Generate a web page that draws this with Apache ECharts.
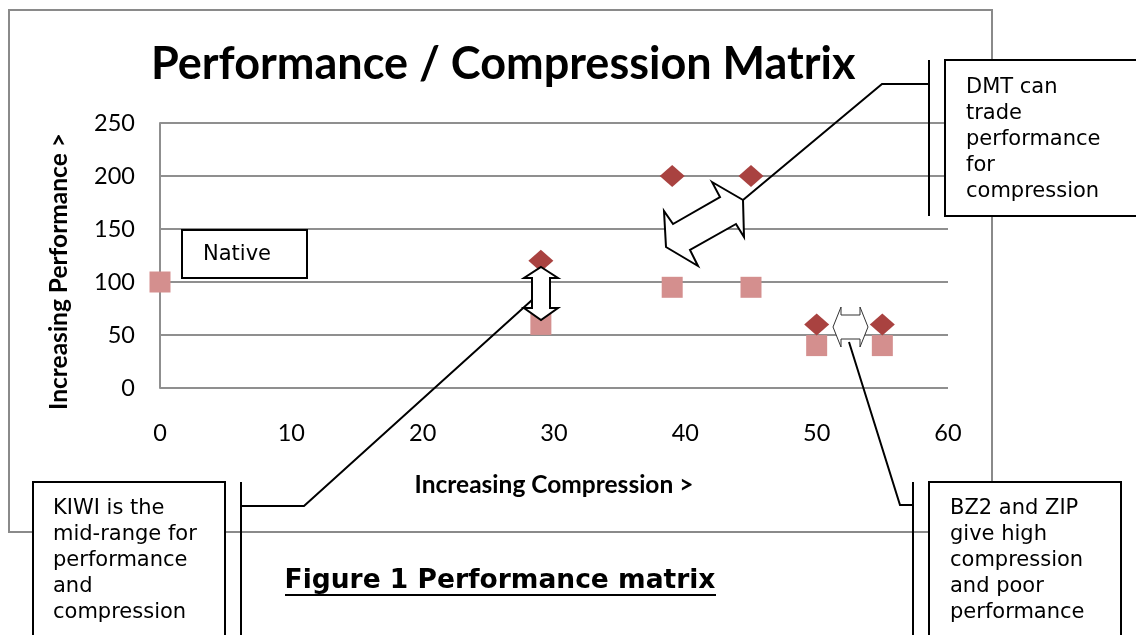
<!DOCTYPE html>
<html>
<head>
<meta charset="utf-8">
<script src="https://cdn.jsdelivr.net/npm/echarts@6/dist/echarts.min.js"></script>
<style>
html,body{margin:0;padding:0;background:#fff;}
#chart{width:1136px;height:635px;}
</style>
</head>
<body>
<div id="chart"></div>
<script>
// ---- data ----
const titleText = 'Performance / Compression Matrix';
const xAxisName = 'Increasing Compression >';
const yAxisName = 'Increasing Performance >';
const xTicks = [0, 10, 20, 30, 40, 50, 60];
const yTicks = [0, 50, 100, 150, 200, 250];
// diamond series
const diamondX = [29, 39, 45, 50, 55];
const diamondY = [120, 200, 200, 60, 60];
// square series
const squareX = [0, 29, 39, 45, 50, 55];
const squareY = [100, 60, 95, 95, 40, 40];
// annotation texts
const nativeText = 'Native';
const dmtText = ['DMT can', 'trade', 'performance', 'for', 'compression'];
const kiwiText = ['KIWI is the', 'mid-range for', 'performance', 'and', 'compression'];
const bzText = ['BZ2 and ZIP', 'give high', 'compression', 'and poor', 'performance'];
const captionText = 'Figure 1 Performance matrix';

const diamondData = diamondX.map((x, i) => [x, diamondY[i]]);
const squareData = squareX.map((x, i) => [x, squareY[i]]);

const chart = echarts.init(document.getElementById('chart'));
const calloutFont = '21px "DejaVu Sans"';
const Z = 100;

function box(x, y, w, h) {
  return { type: 'rect', z: Z, shape: { x, y, width: w, height: h },
    style: { fill: '#fff', stroke: '#000', lineWidth: 2 } };
}
function line(points, w) {
  return { type: 'polyline', z: Z, shape: { points },
    style: { fill: null, stroke: '#000', lineWidth: w || 2 } };
}
function textBlock(x, y, lines) {
  return { type: 'text', z: Z + 1, x, y,
    style: { text: lines.join('\n'), font: calloutFont, fill: '#000',
      lineHeight: 26, verticalAlign: 'top', align: 'left' } };
}

const graphics = [
  // outer chart border
  { type: 'rect', z: 1, shape: { x: 9, y: 10, width: 983, height: 522 },
    style: { fill: null, stroke: '#8a8a8a', lineWidth: 2 } },
  // Native box
  box(182, 230, 125, 48),
  { type: 'text', z: Z + 1, x: 203, y: 255,
    style: { text: nativeText, font: calloutFont, fill: '#000', verticalAlign: 'middle' } },
  // KIWI double arrow (vertical)
  { type: 'polygon', z: Z, shape: { points: [
      [541, 267], [558, 278], [550, 278], [550, 308], [558, 308], [541, 320],
      [524, 308], [532, 308], [532, 278], [524, 278]] },
    style: { fill: '#fff', stroke: '#000', lineWidth: 2 } },
  // DMT double arrow (diagonal)
  { type: 'polygon', z: Z, shape: { points: [
      [712, 182], [743, 200], [744, 237], [736, 224], [690, 250], [698, 266],
      [666, 247], [664, 211], [673, 224], [720, 197]] },
    style: { fill: '#fff', stroke: '#000', lineWidth: 2 } },
  // BZ2/ZIP small double arrow
  { type: 'polygon', z: Z, shape: { points: [
      [833, 327], [841, 307], [841, 315], [860, 315], [860, 307], [868, 327],
      [860, 347], [860, 339], [841, 339], [841, 347]] },
    style: { fill: '#fff', stroke: '#333', lineWidth: 1 } },
  // DMT callout
  line([[929, 84], [882, 84], [743, 200]]),
  line([[929, 60], [929, 216]]),
  box(945, 60, 200, 156),
  textBlock(966, 75, dmtText),
  // KIWI callout
  line([[241, 506], [304, 506], [532, 300]]),
  line([[241, 482], [241, 640]]),
  box(33, 482, 192, 200),
  textBlock(53, 496, kiwiText),
  // BZ2 callout
  line([[913, 505], [900, 505], [849, 342]]),
  line([[913, 482], [913, 640]]),
  box(929, 482, 192, 200),
  textBlock(950, 496, bzText),
  // caption
  { type: 'text', z: Z + 1, x: 500, y: 581,
    style: { text: captionText, font: 'bold 26.5px "DejaVu Sans"', fill: '#000',
      align: 'center', verticalAlign: 'middle' } },
  { type: 'line', z: Z + 1, shape: { x1: 285, y1: 595, x2: 716, y2: 595 },
    style: { stroke: '#000', lineWidth: 2 } }
];

chart.setOption({
  backgroundColor: '#fff',
  animation: false,
  title: {
    text: titleText, left: 146, top: 37,
    textStyle: { fontFamily: 'Lato', fontWeight: 'bold', fontSize: 45, color: '#000' }
  },
  grid: { left: 160, right: 188, top: 123, bottom: 247, containLabel: false },
  xAxis: {
    type: 'value', min: xTicks[0], max: xTicks[xTicks.length - 1], interval: 10,
    name: xAxisName, nameLocation: 'middle', nameGap: 85,
    nameTextStyle: { fontFamily: 'Lato', fontWeight: 'bold', fontSize: 24.5, color: '#000' },
    axisLine: { show: false }, axisTick: { show: false }, splitLine: { show: false },
    axisLabel: { margin: 33, fontFamily: 'Lato', fontSize: 23.5, color: '#000' }
  },
  yAxis: {
    type: 'value', min: yTicks[0], max: yTicks[yTicks.length - 1], interval: 50,
    name: yAxisName, nameLocation: 'middle', nameGap: 88,
    nameTextStyle: { fontFamily: 'Lato', fontWeight: 'bold', fontSize: 24.5, color: '#000', padding: [0, 32, 0, 0] },
    axisLine: { show: true, lineStyle: { color: '#8f8f8f', width: 2 } },
    axisTick: { show: false },
    splitLine: { show: true, lineStyle: { color: '#8f8f8f', width: 2 } },
    axisLabel: { margin: 25, fontFamily: 'Lato', fontSize: 23.5, color: '#000' }
  },
  series: [
    { name: 'Squares', type: 'scatter', data: squareData, symbol: 'rect', symbolSize: 21,
      itemStyle: { color: '#D48F8E', opacity: 1 }, z: 3 },
    { name: 'Diamonds', type: 'scatter', data: diamondData, symbol: 'diamond', symbolSize: [25, 22],
      itemStyle: { color: '#A94240', opacity: 1 }, z: 4 }
  ],
  graphic: graphics
});
</script>
</body>
</html>
